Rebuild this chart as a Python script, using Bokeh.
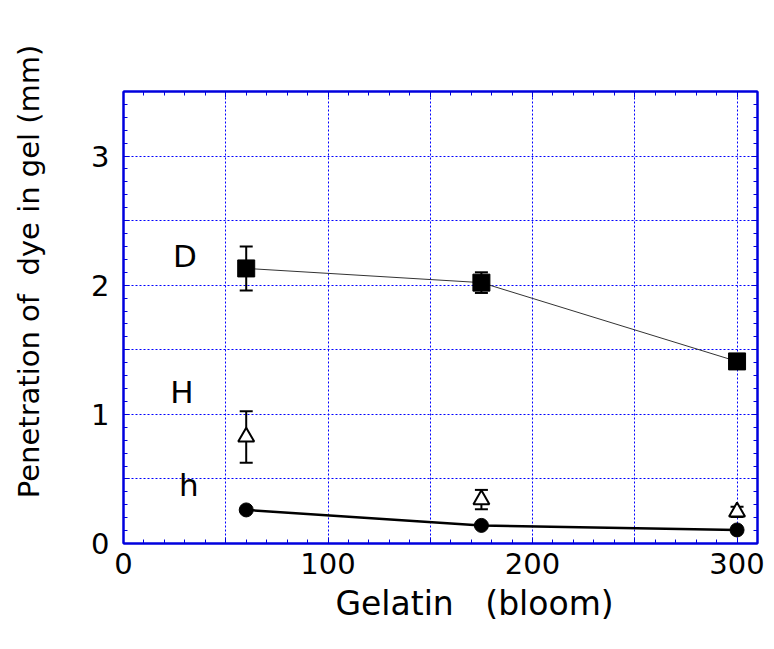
from bokeh.plotting import figure
from bokeh.models import (ColumnDataSource, Whisker, TeeHead, LinearAxis, SingleIntervalTicker, Range1d, Title)
from bokeh.core.properties import value
from bokeh.embed import file_html
from bokeh.resources import INLINE

# ---- data ----
gelatin = [60, 175, 300]
D_vals = [2.13, 2.02, 1.41]
D_err = [0.17, 0.08, 0.03]
H_vals = [0.825, 0.34, 0.245]
H_err = [0.20, 0.075, 0.04]
h_vals = [0.26, 0.14, 0.105]

label_text = ["D", "H", "h"]
label_x = [30, 28.5, 32]
label_y = [2.23, 1.17, 0.455]

x_ticks_labeled = [0, 100, 200, 300]
y_ticks_labeled = [0, 1, 2, 3]

NB = "\u00a0"
x_title = "Gelatin" + NB * 3 + "(bloom)"
# leading non-breaking spaces push the centred title upward, as in the reference
y_title = NB * 10 + "Penetration" + NB + "of" + NB * 2 + "dye" + NB + "in" + NB + "gel" + NB + "(mm)"

FONT = "DejaVu Sans"
BLUE = "#0000dd"
GRID_BLUE = "#0000ff"

p = figure(width=766, height=641, output_backend="svg", toolbar_location=None,
           x_range=Range1d(0, 310), y_range=Range1d(0, 3.5),
           x_axis_location=None, y_axis_location=None)
p.min_border_left = 123
p.min_border_right = 9
p.min_border_top = 91
p.min_border_bottom = 98
p.background_fill_color = "white"
p.border_fill_color = "white"
p.outline_line_color = BLUE
p.outline_line_width = 2

xt = SingleIntervalTicker(interval=50, num_minor_ticks=5)
yt = SingleIntervalTicker(interval=0.5, num_minor_ticks=5)

def style_axis(ax, labels):
    ax.axis_line_color = BLUE
    ax.axis_line_width = 2
    ax.major_tick_line_color = BLUE
    ax.minor_tick_line_color = BLUE
    ax.major_tick_in = 6
    ax.major_tick_out = 0
    ax.minor_tick_in = 4
    ax.minor_tick_out = 0
    ax.major_label_text_font = FONT
    ax.major_label_text_font_size = "29px"
    ax.major_label_text_color = "black"
    ax.axis_label_text_font = FONT
    ax.axis_label_text_font_size = "29px"
    ax.axis_label_text_font_style = "normal"
    ax.axis_label_text_color = "black"
    if not labels:
        ax.major_label_text_font_size = "0px"

xa = LinearAxis(ticker=xt)
style_axis(xa, True)
xa.major_label_overrides = {v: ("" if v not in x_ticks_labeled else str(v)) for v in range(0, 311, 50)}
xa.major_label_standoff = 9
p.add_layout(xa, "below")

ya = LinearAxis(ticker=yt, axis_label=y_title)
style_axis(ya, True)
ya.major_label_overrides = {v: ("" if v not in y_ticks_labeled else str(int(v))) for v in [0, 0.5, 1, 1.5, 2, 2.5, 3, 3.5]}
ya.major_label_standoff = 14
ya.axis_label_standoff = 42
p.add_layout(ya, "left")

xa2 = LinearAxis(ticker=xt)
style_axis(xa2, False)
p.add_layout(xa2, "above")

ya2 = LinearAxis(ticker=yt)
style_axis(ya2, False)
p.add_layout(ya2, "right")

# x axis title (off-centre like the reference)
p.add_layout(Title(text=x_title, align="left", offset=212, standoff=10, text_font=FONT,
                   text_font_size="33px", text_font_style="normal", text_color="black"), "below")

p.xgrid.ticker = xt
p.ygrid.ticker = yt
for g in (p.xgrid, p.ygrid):
    g.grid_line_color = GRID_BLUE
    g.grid_line_width = 1
    g.grid_line_dash = "2 2"

# D series
srcD = ColumnDataSource(dict(x=gelatin, y=D_vals,
                             lo=[v - e for v, e in zip(D_vals, D_err)],
                             hi=[v + e for v, e in zip(D_vals, D_err)]))
p.line("x", "y", source=srcD, line_color="#333333", line_width=1)
p.add_layout(Whisker(source=srcD, base="x", upper="hi", lower="lo", line_color="black", line_width=2,
                     upper_head=TeeHead(size=13, line_width=2, line_color="black"),
                     lower_head=TeeHead(size=13, line_width=2, line_color="black")))
p.scatter("x", "y", source=srcD, marker="square", size=17, fill_color="black", line_color="black")

# H series
srcH = ColumnDataSource(dict(x=gelatin, y=H_vals,
                             lo=[v - e for v, e in zip(H_vals, H_err)],
                             hi=[v + e for v, e in zip(H_vals, H_err)]))
p.add_layout(Whisker(source=srcH, base="x", upper="hi", lower="lo", line_color="black", line_width=2,
                     upper_head=TeeHead(size=13, line_width=2, line_color="black"),
                     lower_head=TeeHead(size=13, line_width=2, line_color="black")))
p.scatter("x", "y", source=srcH, marker="triangle", size=16, fill_color="white", line_color="black", line_width=2)

# h series
srch = ColumnDataSource(dict(x=gelatin, y=h_vals))
p.line("x", "y", source=srch, line_color="black", line_width=2.5)
p.scatter("x", "y", source=srch, marker="circle", size=14, fill_color="black", line_color="black")

# labels
p.text(x=label_x, y=label_y, text=label_text, text_font=value(FONT), text_font_size="31px",
       text_align="center", text_baseline="alphabetic", text_color="black")

open("out.html", "w").write(file_html(p, INLINE))
